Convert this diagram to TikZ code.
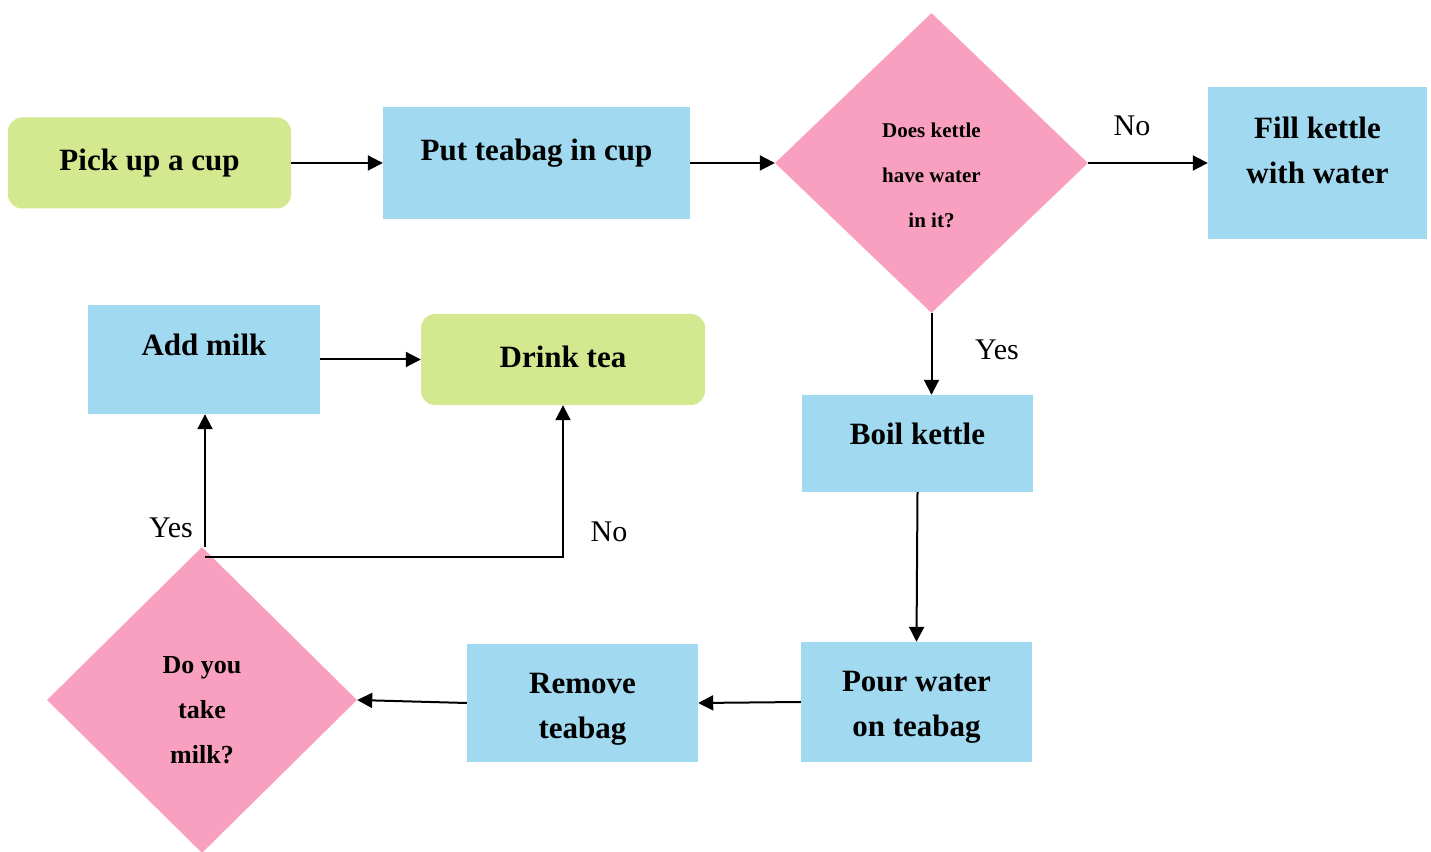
\documentclass[tikz,border=0pt]{standalone}
\usepackage{fontspec}
\setmainfont{Liberation Serif}
\usepackage{xcolor}
\usetikzlibrary{shapes.geometric,arrows.meta}
\definecolor{stepgreen}{RGB}{211,232,143}
\definecolor{stepblue}{RGB}{160,217,240}
\definecolor{steppink}{RGB}{249,160,193}
\tikzset{
  endbox/.style={fill=stepgreen, rounded corners=14pt, inner sep=0pt},
  stepbox/.style={fill=stepblue, inner sep=0pt},
  askbox/.style={fill=steppink, shape=diamond, inner sep=0pt},
  boxtext/.style={align=center, font=\fontsize{31}{45}\selectfont\bfseries},
  answer/.style={font=\fontsize{30}{36}\selectfont},
  flow/.style={line width=2pt, -{Triangle[length=15pt,width=15pt]}},
}
\begin{document}
\begin{tikzpicture}[x=1pt,y=1pt]
    \useasboundingbox (0,0) rectangle (1431,851);
    % top row
    \node[endbox, minimum width=283, minimum height=91] (cup) at (149.5,688) {};
    \node[boxtext] at (cup.center) {Pick up a cup};
    \node[stepbox, minimum width=307, minimum height=112] (teabag) at (536.5,688) {};
    \node[boxtext] at (536.5,698) {Put teabag in cup};
    \node[askbox, minimum width=313, minimum height=300] (kettle) at (931.5,688) {};
    \node[boxtext, font=\fontsize{21}{45}\selectfont\bfseries] at (931.5,676) {Does kettle\\have water\\in it?};
    \node[stepbox, minimum width=219, minimum height=152] (fill) at (1317.5,688) {};
    \node[boxtext] at (1317.5,700.5) {Fill kettle\\with water};
    % right column
    \node[stepbox, minimum width=231, minimum height=97] (boil) at (917.5,407.5) {};
    \node[boxtext] at (917.5,417) {Boil kettle};
    \node[stepbox, minimum width=231, minimum height=120] (pour) at (916.5,149) {};
    \node[boxtext] at (916.5,144) {Pour water\\on teabag};
    % bottom row
    \node[stepbox, minimum width=231, minimum height=118] (remove) at (582.5,148) {};
    \node[boxtext] at (582.5,141.5) {Remove\\teabag};
    \node[askbox, minimum width=310, minimum height=306] (milk) at (202,151) {};
    \node[boxtext, font=\fontsize{26}{45}\selectfont\bfseries] at (202,141) {Do you\\take\\milk?};
    % end
    \node[stepbox, minimum width=232, minimum height=109] (add) at (204,491.5) {};
    \node[boxtext] at (204,506) {Add milk};
    \node[endbox, minimum width=284, minimum height=91] (drink) at (563,491.5) {};
    \node[boxtext] at (563,494.5) {Drink tea};
    \coordinate (split) at (205,294);

    \draw[flow] (cup.east) -- (teabag.west);
    \draw[flow] (teabag.east) -- (kettle.west);
    \draw[flow] (kettle.east) -- (fill.west);
    \draw[flow] (kettle.south) -- (kettle.south |- boil.north);
    \draw[flow] (boil.south) -- (pour.north);
    \draw[flow] (pour.west) -- (remove.east);
    \draw[flow] (remove.west) -- (milk.east);
    \draw[flow] (split |- milk.north) -- (split |- add.south);
    \draw[flow] (split) -| (drink.south);
    \draw[flow] (add.east) -- (drink.west);

    \node[answer] (nofill) at (1132,725) {No};
    \node[answer] (yesboil) at (997,501) {Yes};
    \node[answer] (yesmilk) at (171,323) {Yes};
    \node[answer] (nomilk) at (609,319) {No};
\end{tikzpicture}
\end{document}
